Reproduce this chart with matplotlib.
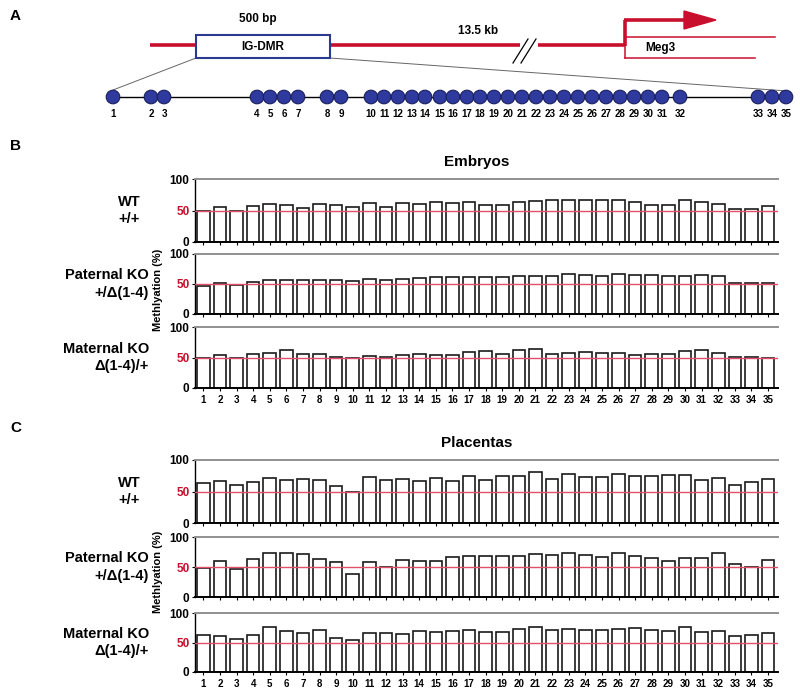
import matplotlib
matplotlib.use("Agg")
import matplotlib.pyplot as plt
from matplotlib.patches import Rectangle, Circle

plt.rcParams['font.family'] = ['Liberation Sans', 'DejaVu Sans']
plt.rcParams['font.weight'] = 'bold'

W, H = 800, 694

# ---------------- data ----------------
cpg = list(range(1, 36))
cpg_pos = [113, 151, 164, 257, 270, 284, 298, 327, 341, 371, 384, 398, 412, 425, 440,
           453, 467, 480, 494, 508, 522, 536, 550, 564, 578, 592, 606, 620, 634, 648,
           662, 680, 758, 772, 786]

emb_wt = [49, 55, 49.5, 57, 61, 59, 54, 60, 59.5, 56, 62, 56, 62, 61, 63, 62, 64,
          59.5, 59.5, 63, 65.5, 67, 66.5, 67, 66.5, 67, 63, 59, 59, 66, 64, 61, 52.5, 52.5, 57]
emb_pat = [46, 51.5, 48, 53, 56, 57, 57, 57, 56, 55, 58, 57, 58, 60, 61, 61, 61,
           62, 61, 64, 63, 63, 66, 65, 63, 66, 65, 65, 64, 64, 65, 64, 52, 51, 51]
emb_mat = [49, 54, 49, 55.5, 57.5, 62.5, 56.5, 56.5, 51.5, 50, 52, 51, 54, 56, 53.5, 53.5, 59.5,
           60, 56, 61.5, 63.5, 56.5, 57, 59, 57, 58, 54, 56, 55.5, 60, 62, 57, 51.5, 51, 50]
pla_wt = [63.5, 66, 60, 65, 71, 68, 70.5, 69, 59, 48.5, 72.5, 69, 70.5, 67, 72, 66, 74.5,
          69, 74, 74.5, 81, 70, 77, 73.5, 73, 77, 74.5, 74.5, 75.5, 75.5, 67.5, 71, 61, 65.5, 70]
pla_pat = [48, 59.5, 47, 63, 73, 74, 72, 63, 58, 38.5, 59, 50, 61, 60, 60, 67, 69,
           68, 68, 68, 71, 70, 74, 70, 67, 74, 69, 65, 60, 65, 65, 73, 55, 49.5, 61]
pla_mat = [62.5, 61.5, 56, 63, 76, 69.5, 65.5, 70.5, 58, 54, 66, 65.5, 64.5, 69.5, 67, 70, 70.5,
           68.5, 68, 73, 77, 72, 73, 71.5, 72, 73, 74, 70.5, 69, 76, 67, 70, 60.5, 63, 65.5]

groups = ["WT\n+/+", "Paternal KO\n+/\u0394(1-4)", "Maternal KO\n\u0394(1-4)/+"]
yticks = [0, 50, 100]

fig = plt.figure(figsize=(W / 100, H / 100), dpi=100)

# ---------------- Panel A (pixel-coordinate overlay) ----------------
axA = fig.add_axes([0, 0, 1, 1])
axA.set_xlim(0, W)
axA.set_ylim(H, 0)
axA.axis('off')
axA.set_zorder(0)

red = '#c8102e'
blue = '#2b3990'
axA.text(10, 16, 'A', fontsize=11, fontweight='bold', va='center')
axA.text(258, 19, '500 bp', fontsize=8.5, fontweight='bold', ha='center', va='center')
axA.text(478, 31, '13.5 kb', fontsize=8.5, fontweight='bold', ha='center', va='center')
axA.plot([150, 520], [45, 45], color=red, lw=2.6, solid_capstyle='butt')
axA.plot([538, 625], [45, 45], color=red, lw=2.6, solid_capstyle='butt')
axA.plot([513, 528], [63, 39], color='black', lw=0.9)
axA.plot([521, 536], [63, 39], color='black', lw=0.9)
axA.add_patch(Rectangle((196, 35), 134, 23, facecolor='white', edgecolor=blue, lw=1.5, zorder=3))
axA.text(263, 47, 'IG-DMR', fontsize=8.5, fontweight='bold', ha='center', va='center', zorder=4)
# Meg3
axA.plot([625, 775], [37, 37], color=red, lw=1.1)
axA.plot([625, 755], [58, 58], color=red, lw=1.1)
axA.plot([625, 625], [37, 58], color=red, lw=1.1)
axA.plot([625, 625], [46, 20], color=red, lw=2.6, solid_capstyle='butt')
axA.plot([624, 688], [20, 20], color=red, lw=2.6, solid_capstyle='butt')
axA.add_patch(plt.Polygon([[684, 11], [716, 20], [684, 29]], closed=True, color=red))
axA.text(660, 48, 'Meg3', fontsize=8.5, fontweight='bold', ha='center', va='center')
# zoom lines
axA.plot([196, 113], [58, 90], color='#666666', lw=0.7)
axA.plot([330, 787], [58, 91], color='#666666', lw=0.7)
axA.plot([113, 787], [97, 97], color='black', lw=1.0)
for n, xp in zip(cpg, cpg_pos):
    axA.add_patch(Circle((xp, 97), 6.8, facecolor='#2e3a9e', edgecolor='#1a1f5c', lw=0.8, zorder=3))
    axA.text(xp, 114, str(n), fontsize=7, fontweight='bold', ha='center', va='center')

axA.text(10, 146, 'B', fontsize=11, fontweight='bold', va='center')
axA.text(477, 162, 'Embryos', fontsize=11, fontweight='bold', ha='center', va='center')
axA.text(10, 428, 'C', fontsize=11, fontweight='bold', va='center')
axA.text(477, 443, 'Placentas', fontsize=11, fontweight='bold', ha='center', va='center')


def rect(left, top, right, bottom):
    return [left / W, 1 - bottom / H, (right - left) / W, (bottom - top) / H]


def bar_panel(box, vals, label, label_x, label_ha, show_x):
    ax = fig.add_axes(rect(*box))
    ax.bar(cpg, vals, width=0.76, facecolor='white', edgecolor='#1a1a1a', lw=1.2, zorder=2)
    ax.axhline(50, color='#e0506a', lw=1.0, zorder=3)
    ax.set_xlim(0.5, 35.6)
    ax.set_ylim(0, 100)
    ax.set_yticks(yticks)
    ax.set_yticklabels([str(t) for t in yticks], fontsize=8.5, fontweight='bold')
    ax.get_yticklabels()[1].set_color('#c8102e')
    ax.tick_params(axis='y', length=2, pad=2)
    ax.spines['right'].set_visible(False)
    ax.spines['top'].set_color('#909090')
    ax.spines['top'].set_linewidth(1.4)
    ax.spines['bottom'].set_linewidth(1.4)
    ax.spines['left'].set_linewidth(1.0)
    ax.set_xticks(cpg)
    if show_x:
        ax.set_xticklabels([str(c) for c in cpg], fontsize=7, fontweight='bold')
        ax.tick_params(axis='x', length=2, pad=3)
    else:
        ax.set_xticklabels([])
        ax.tick_params(axis='x', length=2)
    cy = (box[1] + box[3]) / 2
    axA.text(label_x, cy, label, fontsize=10.5, fontweight='bold', ha=label_ha, va='center',
             multialignment='center' if label_ha == 'center' else 'right', linespacing=1.3)
    return ax


emb_boxes = [(195, 179, 778, 242), (195, 254, 778, 314), (195, 327, 778, 388)]
pla_boxes = [(195, 460, 778, 523), (195, 537, 778, 597), (195, 613, 778, 672)]
label_xs = [129, 149, 149]
label_has = ['center', 'right', 'right']

for i, (b, v) in enumerate(zip(emb_boxes, [emb_wt, emb_pat, emb_mat])):
    bar_panel(b, v, groups[i], label_xs[i], label_has[i], i == 2)
for i, (b, v) in enumerate(zip(pla_boxes, [pla_wt, pla_pat, pla_mat])):
    bar_panel(b, v, groups[i], label_xs[i], label_has[i], i == 2)

axA.text(158, 290, 'Methlyation (%)', fontsize=8, fontweight='bold', rotation=90,
         ha='center', va='center')
axA.text(158, 572, 'Methlyation (%)', fontsize=8, fontweight='bold', rotation=90,
         ha='center', va='center')

fig.savefig('out.png', dpi=100)
